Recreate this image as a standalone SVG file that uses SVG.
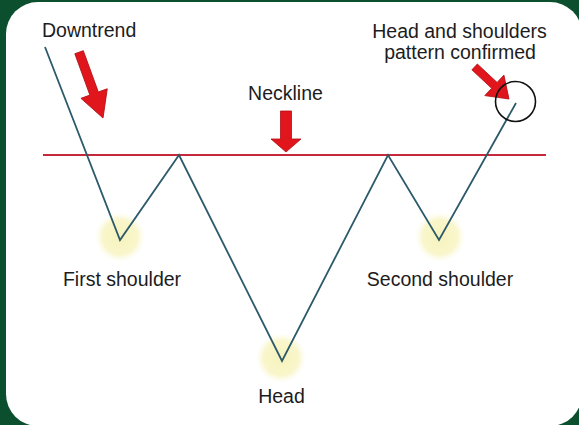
<svg xmlns="http://www.w3.org/2000/svg" width="579" height="425" viewBox="0 0 579 425">
  <defs>
    <radialGradient id="glow">
      <stop offset="0" stop-color="#f7f3bd"/>
      <stop offset="0.7" stop-color="#f9f6cc"/>
      <stop offset="1" stop-color="#fcfae4" stop-opacity="0"/>
    </radialGradient>
    <polygon id="arrow1" points="-4.5,-70 4.5,-70 4.5,-26 14,-26 0,0 -14,-26 -4.5,-26"/>
    <polygon id="arrow2" points="-5.5,-41 5.5,-41 5.5,-13 15,-13 0,0 -15,-13 -5.5,-13"/>
    <polygon id="arrow3" points="-4,-47 4,-47 4,-20 14,-20 0,0 -14,-20 -4,-20"/>
  </defs>
  <style>
    .lbl { font-family: "Liberation Sans", Arial, sans-serif; font-size: 19.5px; fill: #1c1c1c; }
    .arrow { fill: #e1161d; stroke: #b01015; stroke-width: 0.8; }
    .price { fill: none; stroke: #2c5a6a; stroke-width: 1.8; stroke-linejoin: miter; }
    .neck { stroke: #c4283a; stroke-width: 1.8; }
    .glow { fill: url(#glow); }
  </style>
  <rect width="579" height="425" fill="#0c4f2f"/>
  <rect x="6" y="2" width="576" height="424" rx="32" ry="32" fill="#ffffff"/>

  <g id="glows">
    <circle class="glow" cx="120" cy="237" r="25"/>
    <circle class="glow" cx="281" cy="358" r="25"/>
    <circle class="glow" cx="440" cy="237" r="25"/>
  </g>

  <g id="connectors">
    <line class="neck" x1="43" y1="155" x2="546" y2="155"/>
    <polyline class="price" points="45,47 120,240 179,155 282,361 388,155 439,240 516,103"/>
  </g>

  <g id="downtrend">
    <text class="lbl" x="42" y="37">Downtrend</text>
    <use href="#arrow1" class="arrow" transform="translate(103,118) rotate(-20)"/>
  </g>

  <g id="neckline">
    <text class="lbl" x="285.5" y="100" text-anchor="middle">Neckline</text>
    <use href="#arrow2" class="arrow" transform="translate(286,152)"/>
  </g>

  <g id="confirmed">
    <text class="lbl" x="459.5" y="38" text-anchor="middle">Head and shoulders</text>
    <text class="lbl" x="460" y="59" text-anchor="middle">pattern confirmed</text>
    <use href="#arrow3" class="arrow" transform="translate(509,99) rotate(-47)"/>
    <circle cx="515.5" cy="101.5" r="20" fill="none" stroke="#111111" stroke-width="1.6"/>
  </g>

  <g id="first-shoulder">
    <text class="lbl" x="122" y="286" text-anchor="middle">First shoulder</text>
  </g>

  <g id="head">
    <text class="lbl" x="281.5" y="403" text-anchor="middle">Head</text>
  </g>

  <g id="second-shoulder">
    <text class="lbl" x="440" y="286" text-anchor="middle">Second shoulder</text>
  </g>
</svg>
